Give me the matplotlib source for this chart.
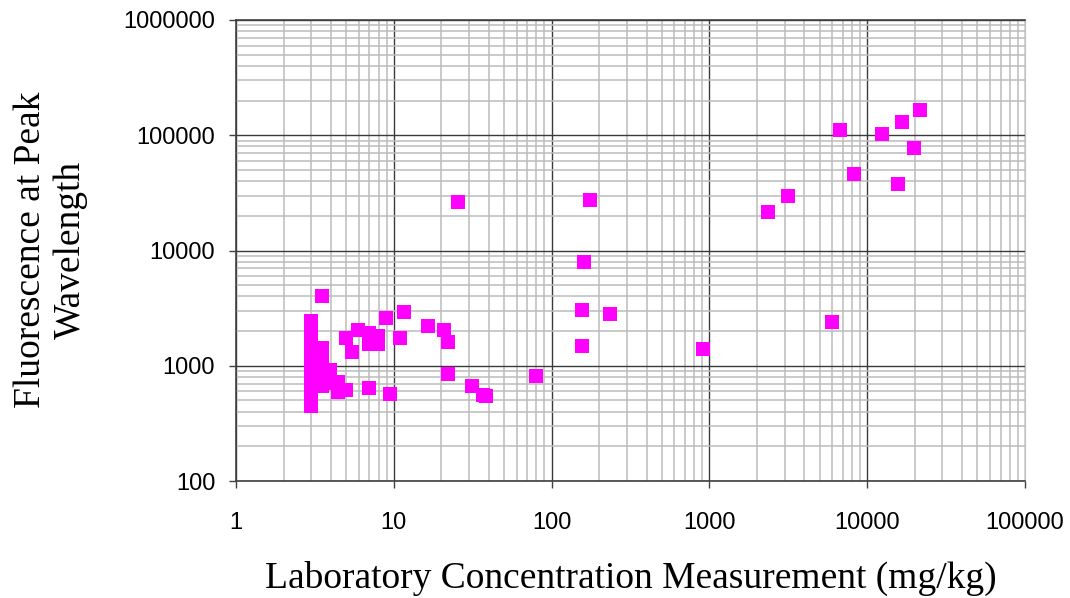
import matplotlib
matplotlib.use("Agg")
import matplotlib.pyplot as plt
from matplotlib.ticker import LogLocator, FuncFormatter, NullFormatter
import numpy as np

# laboratory concentration (mg/kg) vs fluorescence at peak
lab_conc = [3, 3, 3, 3, 3, 3, 3, 3, 3, 3, 3, 3,
            3.5, 3.5, 3.5, 3.5, 3.5, 3.5, 3.5,
            3.94, 4.4, 4.0, 5.0, 4.4, 5.0, 5.4, 5.9,
            7.0, 7.0, 7.9, 7.9, 8.9, 11.6, 10.9, 7.0, 9.5,
            16.4, 20.8, 22, 22, 31.3, 37, 38.5,
            25.5, 175, 160, 155, 234, 155, 79.5, 910,
            2350, 3150, 5980, 6730, 8240, 12400, 15700, 16600, 19800, 21600]
fluor = [2450, 2100, 1800, 1550, 1300, 1100, 950, 820, 700, 600, 520, 450,
         4030, 1425, 1200, 1000, 850, 750, 667,
         920, 725, 710, 615, 590, 1740, 1320, 2050,
         1920, 1550, 1800, 1550, 2590, 2950, 1740, 640, 570,
         2210, 2050, 1610, 850, 667, 560, 550,
         26500, 27500, 7940, 3050, 2810, 1480, 815, 1400,
         21600, 29700, 2400, 111000, 46100, 102600, 37800, 130000, 77400, 165000]

xticks = [1, 10, 100, 1000, 10000, 100000]
yticks = [100, 1000, 10000, 100000, 1000000]

fig = plt.figure(figsize=(10.7, 5.98), dpi=100)
ax = fig.add_axes([236/1070, 1-481/598, (1025-236)/1070, (481-20)/598])

ax.scatter(lab_conc, fluor, marker='s', s=100, color='#ff00ff', linewidths=0, zorder=3)

ax.set_xscale('log')
ax.set_yscale('log')
ax.set_xlim(1, 100000)
ax.set_ylim(100, 1000000)
ax.set_xticks(xticks)
ax.set_yticks(yticks)
ax.xaxis.set_minor_locator(LogLocator(base=10, subs=np.arange(2, 10), numticks=100))
ax.yaxis.set_minor_locator(LogLocator(base=10, subs=np.arange(2, 10), numticks=100))
fmt = FuncFormatter(lambda v, p: f"{v:.0f}")
ax.xaxis.set_major_formatter(fmt)
ax.yaxis.set_major_formatter(fmt)
ax.xaxis.set_minor_formatter(NullFormatter())
ax.yaxis.set_minor_formatter(NullFormatter())

ax.grid(True, which='major', color='#3a3a3a', linewidth=1.0, zorder=1)
ax.grid(True, which='minor', color='#bcbcbc', linewidth=1.1, zorder=0)
ax.set_axisbelow(True)

ax.tick_params(which='major', direction='out', length=5, width=1, color='#404040')
ax.tick_params(which='minor', length=0)
ax.tick_params(axis='x', pad=17)
ax.tick_params(axis='y', pad=10)
for lab in ax.get_xticklabels() + ax.get_yticklabels():
    lab.set_fontfamily('Liberation Sans')
    lab.set_fontsize(17)

for s in ['left', 'bottom', 'top']:
    ax.spines[s].set_color('#404040')
    ax.spines[s].set_linewidth(1.2)
ax.spines['right'].set_color('#c0c0c0')

fig.text(631/1070, 1-578/598, 'Laboratory Concentration Measurement (mg/kg)',
         ha='center', va='center', fontsize=27, family='Liberation Serif')
fig.text(51/1070, 1-250/598, 'Fluorescence at Peak\nWavelength',
         ha='center', va='center', rotation=90, fontsize=27,
         family='Liberation Serif', multialignment='center', linespacing=1.2)

fig.savefig('out.png', dpi=100)
